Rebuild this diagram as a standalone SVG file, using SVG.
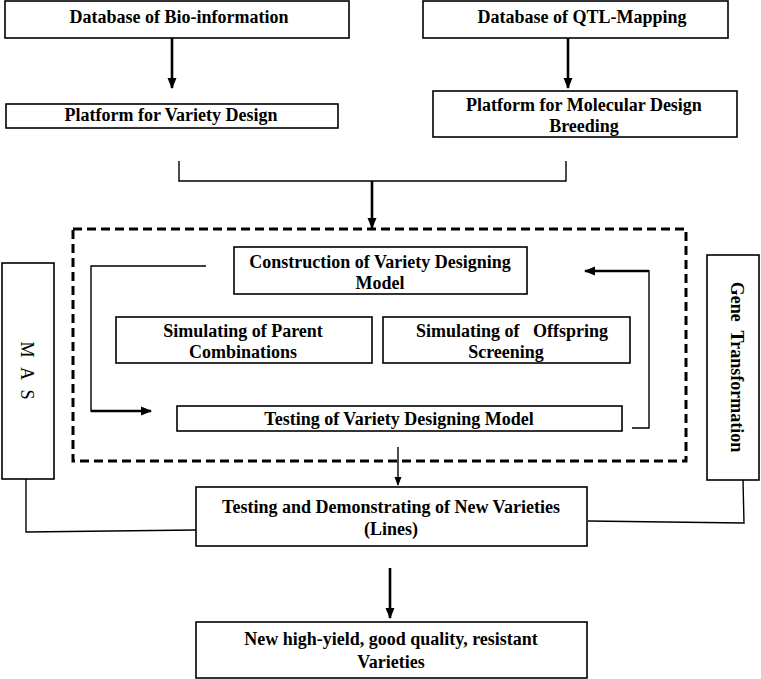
<svg xmlns="http://www.w3.org/2000/svg" width="761" height="679" viewBox="0 0 761 679">
<defs>
<marker id="ah" markerUnits="userSpaceOnUse" markerWidth="11" markerHeight="10" refX="10" refY="5" orient="auto">
<path d="M0,0.5 L11,5 L0,9.5 z" fill="#000"/>
</marker>
<marker id="ahs" markerUnits="userSpaceOnUse" markerWidth="9" markerHeight="8" refX="8" refY="4" orient="auto">
<path d="M0,0.5 L9,4 L0,7.5 z" fill="#000"/>
</marker>
</defs>
<style>
.box{fill:#fff;stroke:#000;stroke-width:1.6}
.t{font-family:"Liberation Serif","Times New Roman",serif;font-size:18px;font-weight:bold;fill:#000;text-anchor:middle}
.r{font-weight:normal}
.thin{fill:none;stroke:#000;stroke-width:1.4}
.thick{fill:none;stroke:#000;stroke-width:2.6}
.dash{fill:none;stroke:#000;stroke-width:3;stroke-dasharray:9 5}
</style>
<rect width="761" height="679" fill="#fff"/>

<g id="connectors">
<line class="thick" x1="172" y1="38" x2="172" y2="88" marker-end="url(#ah)"/>
<line class="thick" x1="568" y1="38" x2="568" y2="88" marker-end="url(#ah)"/>
<polyline class="thin" points="179,161 179,181 566,181 566,161"/>
<line class="thick" x1="372" y1="181" x2="372" y2="228" marker-end="url(#ah)"/>
<polyline class="thin" points="206,266 91,266 91,411 120,411"/>
<line class="thick" x1="91" y1="411" x2="151" y2="411" marker-end="url(#ah)"/>
<polyline class="thin" points="632,428 649,428 649,271 630,271"/>
<line class="thick" x1="649" y1="271" x2="585" y2="271" marker-end="url(#ah)"/>
<line class="thin" x1="398" y1="447" x2="398" y2="485" marker-end="url(#ahs)"/>
<polyline class="thin" points="26,479 26,532 196,530"/>
<polyline class="thin" points="743,480 744,523 588,521"/>
<line class="thick" x1="390" y1="568" x2="390" y2="618" marker-end="url(#ah)"/>
</g>

<g id="design-frame">
<rect class="dash" x="73" y="229" width="613" height="232"/>
</g>

<g id="db-bio">
<rect class="box" x="5" y="1" width="344" height="37"/>
<text class="t" x="179" y="23">Database of Bio-information</text>
</g>
<g id="db-qtl">
<rect class="box" x="423" y="1" width="305" height="37"/>
<text class="t" x="582" y="23">Database of QTL-Mapping</text>
</g>
<g id="platform-variety">
<rect class="box" x="6" y="104" width="332" height="24"/>
<text class="t" x="171" y="121">Platform for Variety Design</text>
</g>
<g id="platform-molecular">
<rect class="box" x="433" y="91" width="304" height="46"/>
<text class="t" x="584" y="111">Platform for Molecular Design</text>
<text class="t" x="584" y="132">Breeding</text>
</g>
<g id="construction">
<rect class="box" x="234" y="247" width="293" height="47"/>
<text class="t" x="380" y="268">Construction of Variety Designing</text>
<text class="t" x="380" y="289">Model</text>
</g>
<g id="sim-parent">
<rect class="box" x="116" y="317" width="256" height="46"/>
<text class="t" x="243" y="337">Simulating of Parent</text>
<text class="t" x="243" y="358">Combinations</text>
</g>
<g id="sim-offspring">
<rect class="box" x="383" y="317" width="247" height="46"/>
<text class="t" x="512" y="337" xml:space="preserve">Simulating of   Offspring</text>
<text class="t" x="506" y="358">Screening</text>
</g>
<g id="testing-model">
<rect class="box" x="177" y="406" width="445" height="25"/>
<text class="t" x="399" y="425">Testing of Variety Designing Model</text>
</g>
<g id="mas">
<rect class="box" x="2" y="263" width="52" height="216"/>
<text class="t r" transform="translate(21,372) rotate(90)" letter-spacing="3">M A S</text>
</g>
<g id="gene">
<rect class="box" x="707" y="255" width="52" height="225"/>
<text class="t" transform="translate(731,367) rotate(90)" xml:space="preserve">Gene  Transformation</text>
</g>
<g id="testing-demo">
<rect class="box" x="196" y="487" width="391" height="59"/>
<text class="t" x="391" y="513">Testing and Demonstrating of New Varieties</text>
<text class="t" x="391" y="535">(Lines)</text>
</g>
<g id="new-varieties">
<rect class="box" x="196" y="622" width="391" height="56"/>
<text class="t" x="391" y="645">New high-yield, good quality, resistant</text>
<text class="t" x="391" y="668">Varieties</text>
</g>
</svg>
